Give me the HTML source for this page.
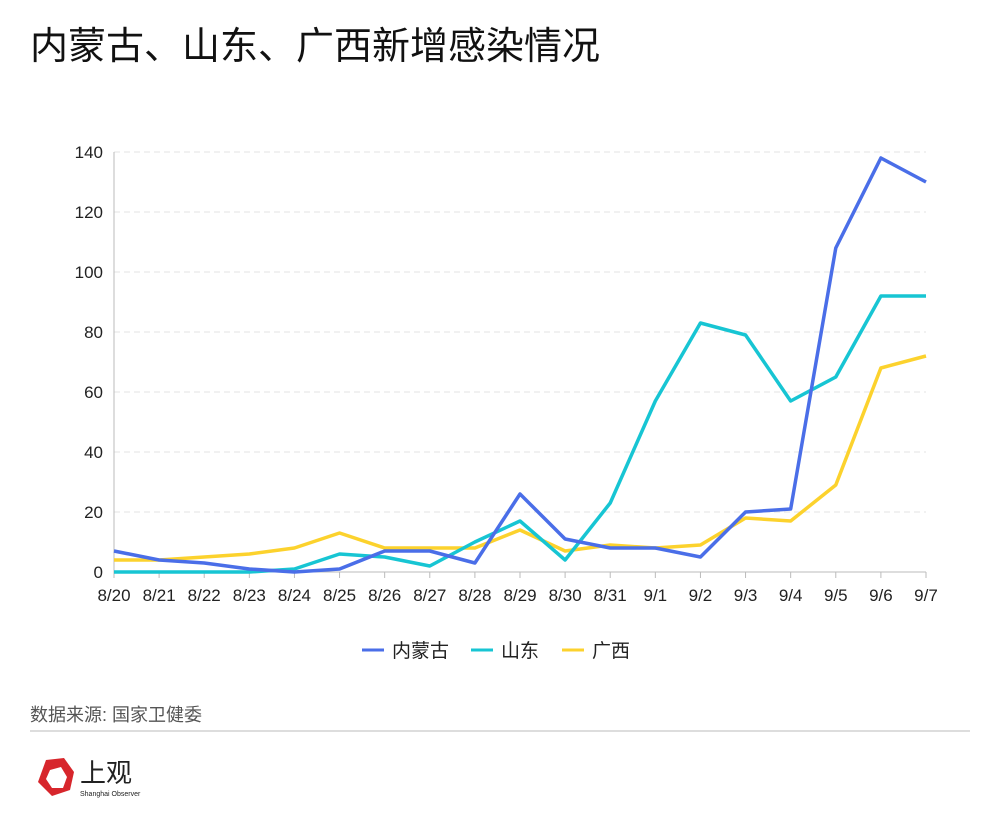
<!DOCTYPE html>
<html><head><meta charset="utf-8"><style>
body{margin:0;background:#fff;font-family:"Liberation Sans","Noto Sans CJK SC",sans-serif;}
svg text{font-family:"Liberation Sans","Noto Sans CJK SC",sans-serif;}
</style></head><body>
<svg width="1000" height="822">
<text x="30" y="59" font-size="38" fill="#111">内蒙古、山东、广西新增感染情况</text>
<g id="grid"></g><g id="axes"></g><g id="series"></g>
<g>
<g><line x1="362" y1="650" x2="384" y2="650" stroke="#4a6ee8" stroke-width="3"/><text x="392" y="657" font-size="19" fill="#222">内蒙古</text></g>
<g><line x1="471" y1="650" x2="493" y2="650" stroke="#17c5d3" stroke-width="3"/><text x="501" y="657" font-size="19" fill="#222">山东</text></g>
<g><line x1="562" y1="650" x2="584" y2="650" stroke="#fcd22d" stroke-width="3"/><text x="592" y="657" font-size="19" fill="#222">广西</text></g>
</g>
<text x="30" y="721" font-size="18" fill="#555">数据来源: 国家卫健委</text>
<line x1="30" y1="731" x2="970" y2="731" stroke="#ddd" stroke-width="2"/>
<g>
<polygon points="46,760 64,758 74,772 70,790 52,796 38,782" fill="#d7262c"/>
<polygon points="50,770 61,767 67,777 63,788 52,788 46,779" fill="#fff"/>
<text x="80" y="782" font-size="26" fill="#222" font-family="Noto Serif CJK SC,serif">上观</text>
<text x="80" y="796" font-size="7" fill="#222">Shanghai Observer</text>
</g>
</svg>
<script>
const categories=["8/20","8/21","8/22","8/23","8/24","8/25","8/26","8/27","8/28","8/29","8/30","8/31","9/1","9/2","9/3","9/4","9/5","9/6","9/7"];
const neimenggu=[7,4,3,1,0,1,7,7,3,26,11,8,8,5,20,21,108,138,130];
const shandong=[0,0,0,0,1,6,5,2,10,17,4,23,57,83,79,57,65,92,92];
const guangxi=[4,4,5,6,8,13,8,8,8,14,7,9,8,9,18,17,29,68,72];
const yTicks=[0,20,40,60,80,100,120,140];
const NS="http://www.w3.org/2000/svg";
const x0=114,x1=926,y0=572,yTop=152,yMax=140;
const xs=i=>x0+i*(x1-x0)/(categories.length-1);
const ys=v=>y0-v*(y0-yTop)/yMax;
function mk(t,a,p){const e=document.createElementNS(NS,t);for(const k in a)e.setAttribute(k,a[k]);p.appendChild(e);return e;}
const grid=document.getElementById('grid'),axes=document.getElementById('axes'),ser=document.getElementById('series');
yTicks.forEach(v=>{
 if(v>0){const g=mk('line',{x1:x0,x2:x1,y1:ys(v),y2:ys(v),stroke:'#e3e3e3','stroke-dasharray':'6,4'},grid);
 }
 const t=mk('text',{x:103,y:ys(v)+6,'font-size':17,'text-anchor':'end',fill:'#222'},axes);t.textContent=v;
 
});
const ya=mk('line',{x1:x0,x2:x0,y1:yTop,y2:y0,stroke:'#bbb'},axes);

const xa=mk('line',{x1:x0,x2:x1,y1:y0,y2:y0,stroke:'#bbb'},axes);

categories.forEach((c,i)=>{
 mk('line',{x1:xs(i),x2:xs(i),y1:y0,y2:y0+6,stroke:'#bbb'},axes);
 const t=mk('text',{x:xs(i),y:601,'font-size':17,'text-anchor':'middle',fill:'#222'},axes);t.textContent=c;
 
});
[[guangxi,'#fcd22d','line-guangxi'],[shandong,'#17c5d3','line-shandong'],[neimenggu,'#4a6ee8','line-neimenggu']].forEach(([d,c,n])=>{
 const p=mk('polyline',{points:d.map((v,i)=>xs(i)+','+ys(v)).join(' '),fill:'none',stroke:c,'stroke-width':3.5,'stroke-linejoin':'round'},ser);
 
});
</script>
</body></html>
